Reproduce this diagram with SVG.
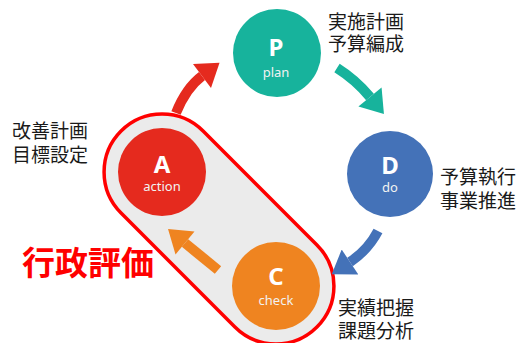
<svg xmlns="http://www.w3.org/2000/svg" width="522" height="343" viewBox="0 0 522 343">
<defs>
<marker id="hRed" markerUnits="userSpaceOnUse" markerWidth="30" markerHeight="30" refX="0" refY="13" orient="auto" viewBox="0 0 20 26"><path d="M0,0 L19,13 L0,26 z" fill="#e52a1e"/></marker>
<marker id="hTeal" markerUnits="userSpaceOnUse" markerWidth="30" markerHeight="30" refX="0" refY="13" orient="auto" viewBox="0 0 20 26"><path d="M0,0 L19,13 L0,26 z" fill="#17b39c"/></marker>
<marker id="hBlue" markerUnits="userSpaceOnUse" markerWidth="30" markerHeight="30" refX="0" refY="13" orient="auto" viewBox="0 0 20 26"><path d="M0,0 L19,13 L0,26 z" fill="#4472b8"/></marker>
<marker id="hOrange" markerUnits="userSpaceOnUse" markerWidth="30" markerHeight="30" refX="0" refY="13" orient="auto" viewBox="0 0 20 26"><path d="M0,0 L19,13 L0,26 z" fill="#ef8420"/></marker>
</defs>
<style>
.big{font-family:"Noto Sans","Open Sans",sans-serif;font-weight:bold;font-size:24px;fill:#ffffff;text-anchor:middle}
.sub{font-family:"Noto Sans","Open Sans",sans-serif;font-size:13px;fill:#f2f2f2;text-anchor:middle}
.lbl{font-family:"Noto Sans CJK JP",sans-serif;font-size:19px;fill:#1a1a1a}
.arr{fill:none;stroke-width:10;stroke-linecap:butt}
</style>
<rect width="522" height="343" fill="#ffffff"/>
<g id="evaluation">
<rect x="80.5" y="171" width="277" height="116" rx="58" ry="58" transform="rotate(45 219 229)" fill="#ebebeb" stroke="#ff0000" stroke-width="3.5"/>
<text x="22" y="275" font-family="Noto Sans CJK JP, sans-serif" font-weight="bold" font-size="33" fill="#ff0000">行政評価</text>
</g>
<g id="connectors">
<path class="arr" d="M176,113 Q186,88 202,76" stroke="#e52a1e" marker-end="url(#hRed)"/>
<path class="arr" d="M337,68 Q356,80 370,97" stroke="#17b39c" marker-end="url(#hTeal)"/>
<path class="arr" d="M378,231 Q368,250 350,262" stroke="#4472b8" marker-end="url(#hBlue)"/>
<path class="arr" d="M218,270 L185,243" stroke="#ef8420" marker-end="url(#hOrange)"/>
</g>
<g id="plan">
<circle cx="277" cy="53" r="44" fill="#17b39c"/>
<text class="big" x="276" y="56">P</text>
<text class="sub" x="276" y="77">plan</text>
<text class="lbl" x="328" y="29">実施計画</text>
<text class="lbl" x="328" y="51">予算編成</text>
</g>
<g id="do">
<circle cx="390" cy="174" r="43" fill="#4472b8"/>
<text class="big" x="390" y="174">D</text>
<text class="sub" x="390" y="192">do</text>
<text class="lbl" x="440" y="184">予算執行</text>
<text class="lbl" x="440" y="208">事業推進</text>
</g>
<g id="action">
<circle cx="162" cy="172" r="44" fill="#e52a1e"/>
<text class="big" x="162" y="173">A</text>
<text class="sub" x="162" y="191">action</text>
<text class="lbl" x="12" y="138">改善計画</text>
<text class="lbl" x="12" y="162">目標設定</text>
</g>
<g id="check">
<circle cx="276" cy="286" r="44" fill="#ef8420"/>
<text class="big" x="276" y="285">C</text>
<text class="sub" x="276" y="305">check</text>
<text class="lbl" x="338" y="315">実績把握</text>
<text class="lbl" x="338" y="338">課題分析</text>
</g>
</svg>
